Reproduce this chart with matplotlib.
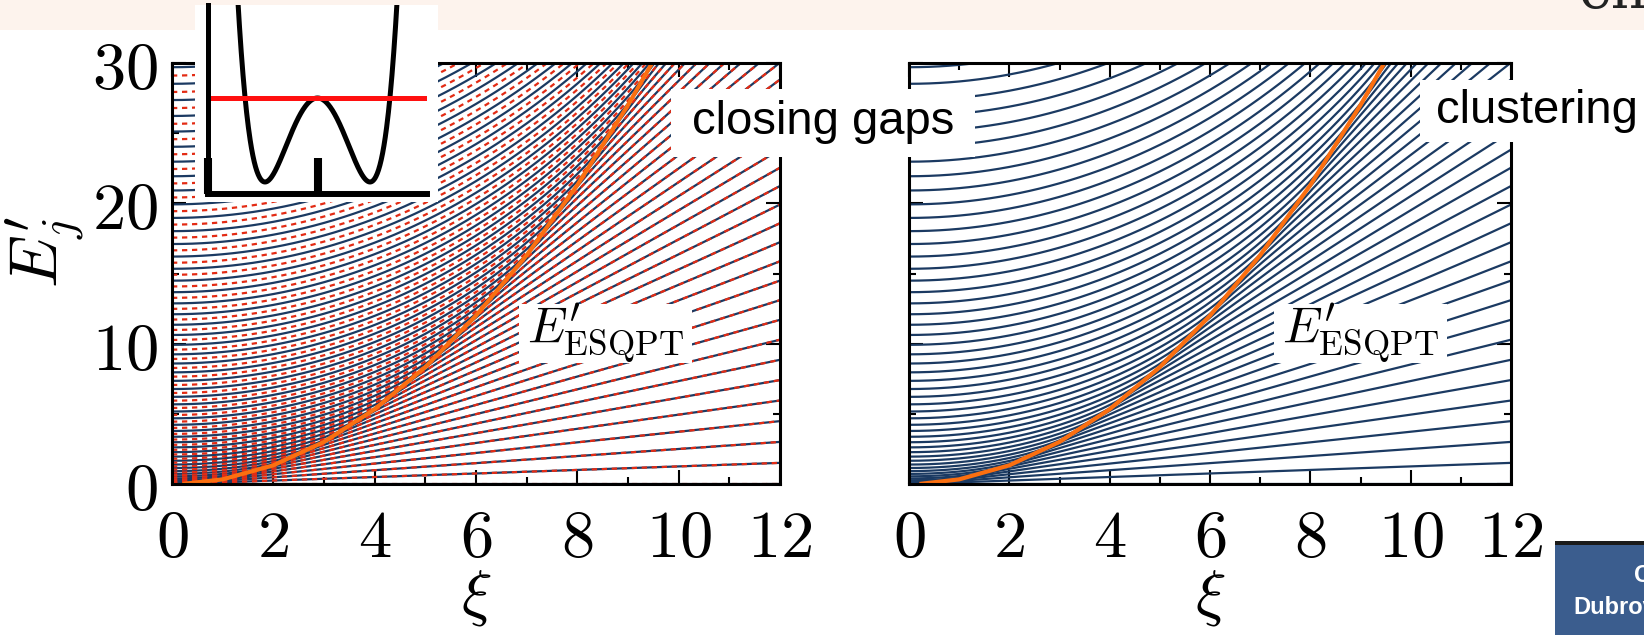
import numpy as np
import matplotlib.pyplot as plt
from matplotlib.patches import Rectangle
from matplotlib.ticker import MultipleLocator

W, H = 1644, 635
plt.rcParams['mathtext.fontset'] = 'cm'
plt.rcParams['lines.scale_dashes'] = False

# ESQPT line
esqpt_xi = [0.25, 1, 2, 3, 4, 5, 6, 7, 8, 9, 10]
esqpt_e = [0.02, 0.33, 1.33, 3.0, 5.33, 8.33, 12.0, 16.3, 21.3, 27.0, 33.3]

xi_ticks = [0, 2, 4, 6, 8, 10, 12]
e_ticks = [0, 10, 20, 30]

# levels: squeeze-driven Kerr oscillator, H = K a+^2 a^2 - xi (a+^2 + a^2)
# KERR fixed by the level spacing at xi=0, DRIVE by E'_ESQPT ~ xi^2/3
KERR = 0.003
DRIVE = 10.5
N_FOCK = 520
N_LEVELS = 70
xi_grid = np.linspace(0, 12, 241)

NAVY = '#1b3a62'
RED = '#e32b14'
ORANGE = '#fb6f10'
PEACH = '#fdf3ed'


def levels(parity):
    n = np.arange(parity, N_FOCK, 2).astype(float)
    diag = np.diag(n * (n - 1))
    off = np.sqrt((n[:-1] + 1) * (n[:-1] + 2))
    hop = np.diag(off, 1) + np.diag(off, -1)
    out = []
    for xi in xi_grid:
        out.append(np.linalg.eigvalsh(diag - DRIVE * xi * hop)[:N_LEVELS])
    return np.array(out)


even = levels(0)
odd = levels(1)
ground = np.minimum(even[:, 0], odd[:, 0])[:, None]
even = KERR * (even - ground)
odd = KERR * (odd - ground)


def box(x0, y0, x1, y1):
    return [x0 / W, 1 - y1 / H, (x1 - x0) / W, (y1 - y0) / H]


def rect(x0, y0, x1, y1, z, **kw):
    fig.add_artist(Rectangle((x0 / W, 1 - y1 / H), (x1 - x0) / W, (y1 - y0) / H,
                             transform=fig.transFigure, zorder=z, lw=0, **kw))


def label(x, y, s, **kw):
    fig.text(x / W, 1 - y / H, s, ha='center', va='center', zorder=8, **kw)


fig = plt.figure(figsize=(W / 100, H / 100), dpi=100, facecolor=PEACH)
rect(0, 30, 1644, 635, -5, color='white')

ax1 = fig.add_axes(box(172, 63, 780, 484))
ax2 = fig.add_axes(box(909, 63, 1511, 484))

for j in range(N_LEVELS):
    ax1.plot(xi_grid, even[:, j], color=NAVY, lw=1.6)
for j in range(N_LEVELS):
    ax1.plot(xi_grid, odd[:, j], color=RED, lw=1.6, dashes=[3.8, 3.4])
    ax2.plot(xi_grid, even[:, j], color=NAVY, lw=1.6)

for ax in (ax1, ax2):
    ax.plot(esqpt_xi, esqpt_e, color=ORANGE, lw=3.0)
    ax.set_xlim(0, 12)
    ax.set_ylim(0, 30)
    ax.set_facecolor('none')
    for s in ax.spines.values():
        s.set_linewidth(2.2)
    ax.set_xticks(xi_ticks, labels=[f'${t}$' for t in xi_ticks])
    ax.set_yticks(e_ticks, labels=[f'${t}$' for t in e_ticks])
    ax.xaxis.set_minor_locator(MultipleLocator(1))
    ax.yaxis.set_minor_locator(MultipleLocator(5))
    ax.tick_params(which='both', direction='in', top=True, right=True, width=1.5)
    ax.tick_params(which='major', length=10)
    ax.tick_params(which='minor', length=5)
    ax.tick_params(axis='x', labelsize=48, pad=15)
    ax.tick_params(axis='y', labelsize=48, pad=10)
ax2.tick_params(axis='y', labelleft=False)

label(476, 597, r'$\xi$', fontsize=46)
label(1210, 597, r'$\xi$', fontsize=46)
label(45, 252, r"$E_j^{\prime}$", fontsize=48, rotation=90)

# text boxes
rect(671, 89, 975, 157, 7, color='white')
label(823, 122, 'closing gaps', fontsize=34, family='Liberation Sans')
rect(1420, 80, 1644, 142, 7, color='white')
fig.text(1436 / W, 1 - 111 / H, 'clustering', ha='left', va='center', zorder=8,
         fontsize=34, family='Liberation Sans')
rect(519, 304, 692, 363, 7, color='white')
label(606, 333, r"$E^{\prime}_{\rm ESQPT}$", fontsize=36)
rect(1274, 304, 1447, 363, 7, color='white')
label(1361, 333, r"$E^{\prime}_{\rm ESQPT}$", fontsize=36)

# inset with the double well
rect(195, 5, 438, 202, 7, color='white')
ins = fig.add_axes(box(208, 5, 427, 194), zorder=9)
ins.set_facecolor('none')
ins.set_xlim(-2.086, 2.086)
ins.set_ylim(-1.143, 1.107)
xw = np.linspace(-1.7, 1.7, 400)
ins.plot(xw, (xw ** 2 - 1) ** 2 * (1 + 0.12 * xw ** 2) - 1, color='black', lw=3.6)
ins.plot([-2.0, 2.06], [0, 0], color='#ff1010', lw=3.6)
for side in ('top', 'right'):
    ins.spines[side].set_visible(False)
ins.spines['left'].set_linewidth(3.6)
ins.spines['bottom'].set_linewidth(4.3)
ins.set_xticks([-2.086, 0])
ins.set_yticks([])
ins.tick_params(axis='x', direction='in', length=26, width=5.8, labelbottom=False)

# slide leftovers
rect(1555, 545, 1644, 635, 7, color='#3b5d8e')
rect(1555, 541, 1644, 545, 7, color='#1a1a1a')
fig.text(1634 / W, 1 - 575 / H, 'C', color='white', fontsize=17, fontweight='bold',
         family='Liberation Sans', va='center', zorder=8)
fig.text(1573 / W, 1 - 607 / H, 'Dubrovnik', color='white', fontsize=17,
         fontweight='bold', family='Liberation Sans', va='center', zorder=8)
fig.text(1578 / W, 1 - 8 / H, 'en', color='#222222', fontsize=40, va='baseline',
         family='DejaVu Serif', zorder=8)

fig.savefig('out.png', dpi=100, facecolor=PEACH)
